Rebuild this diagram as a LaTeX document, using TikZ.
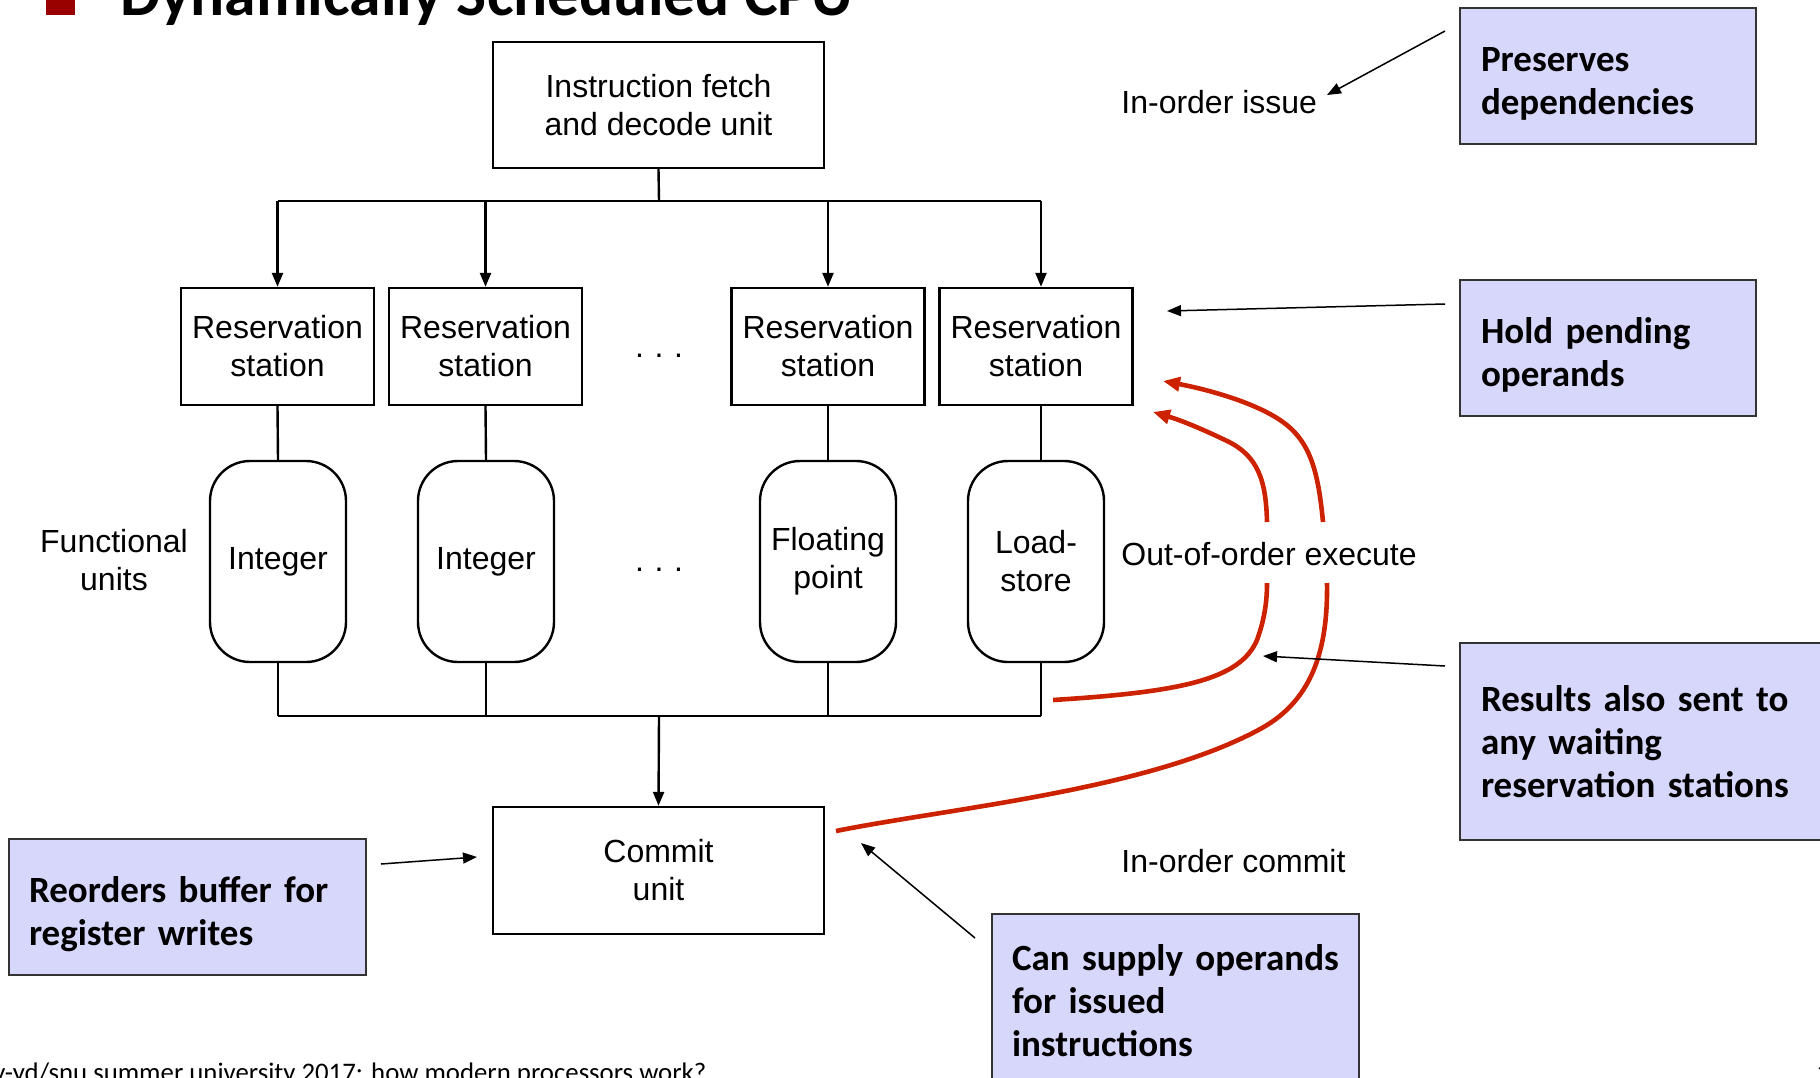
\documentclass[tikz,border=0pt]{standalone}
\usepackage{fontspec}
\setmainfont{Liberation Sans}
\newfontfamily\callfont{Carlito}
\usetikzlibrary{arrows.meta}
\definecolor{callfill}{RGB}{215,215,252}
\definecolor{redc}{RGB}{204,34,0}
\definecolor{bulletred}{RGB}{153,0,0}
\newcommand{\toppad}{\rule{0pt}{20pt}}
\begin{document}
\begin{tikzpicture}[x=0.5pt,y=-0.5pt,
  diag/.style={font=\fontsize{16}{19}\selectfont, align=center},
  box/.style={diag, draw, line width=1.2pt, inner sep=0pt},
  fubox/.style={box, rounded corners=20pt, minimum width=68pt, minimum height=100.5pt},
  rsbox/.style={box, minimum width=96.5pt, minimum height=58.5pt},
  wire/.style={line width=1.2pt},
  warrow/.style={wire, -{Triangle[length=7pt,width=5.5pt]}},
  calloutbox/.style={draw=black!80, line width=0.8pt, fill=callfill, font=\callfont\bfseries\fontsize{18.5}{21.5}\selectfont, align=left, inner xsep=10.5pt, inner ysep=0pt},
  carrow/.style={line width=0.75pt, -{Triangle[length=7pt,width=5.5pt]}},
  redline/.style={redc, line width=2.3pt},
  redarrow/.style={redline, -{Triangle[length=8.5pt,width=7pt]}},
  txtlbl/.style={diag, inner sep=0pt},
]
\useasboundingbox (0,0) rectangle (1820,1077);
\clip (0,0) rectangle (1820,1077);

% title (cut off at the top)
\fill[bulletred] (46,-14) rectangle (75,15);
\node[font=\callfont\bfseries\fontsize{31.8}{36}\selectfont, anchor=base west, inner sep=0pt] (title) at (120,15) {Dynamically Scheduled CPU};

% main units
\node[box, minimum width=165.5pt, minimum height=63pt] (ifu) at (658.5,105) {Instruction fetch\\and decode unit};
\node[rsbox] (rs1) at (277.5,346.5) {Reservation\\station};
\node[rsbox] (rs2) at (485.5,346.5) {Reservation\\station};
\node[rsbox] (rs3) at (828,346.5) {Reservation\\station};
\node[rsbox] (rs4) at (1036,346.5) {Reservation\\station};
\node[fubox] (fu1) at (278,561.5) {Integer};
\node[fubox] (fu2) at (486,561.5) {Integer};
\node[fubox] (fu3) at (828,561.5) {Floating\\point};
\node[fubox] (fu4) at (1036,561.5) {Load-\\store};
\node[box, minimum width=165.5pt, minimum height=63.5pt] (commit) at (658.5,870.5) {Commit\\unit};

\node[txtlbl, anchor=base] (dots1) at (659,357) {.\,\,.\,\,.};
\node[txtlbl, anchor=base] (dots2) at (659,571) {.\,\,.\,\,.};
\node[txtlbl] (fulab) at (114,560) {Functional\\units};
\node[txtlbl, anchor=mid west] (issue) at (1121,108) {In-order issue};
\node[txtlbl, anchor=mid west] (ooo) at (1121,560) {Out-of-order execute};
\node[txtlbl, anchor=mid west] (inc) at (1121,867) {In-order commit};

% top bus
\coordinate (bt) at (659,201);
\draw[wire] (ifu.south) -- (bt);
\draw[wire] (rs1.north |- bt) -- ([xshift=2.5pt]rs4.north |- bt);
\foreach \r in {rs1,rs2,rs3} \draw[warrow] (\r.north |- bt) -- (\r.north);
\draw[warrow] ([xshift=2.5pt]rs4.north |- bt) -- ([xshift=2.5pt]rs4.north);
% RS to FU
\draw[wire] (rs1.south) -- (fu1.north);
\draw[wire] (rs2.south) -- (fu2.north);
\draw[wire] (rs3.south) -- (fu3.north);
\draw[wire] ([xshift=2.5pt]rs4.south) -- ([xshift=2.5pt]fu4.north);
% bottom bus
\coordinate (bb) at (659,716);
\foreach \f in {fu1,fu2,fu3} \draw[wire] (\f.south) -- (\f.south |- bb);
\draw[wire] ([xshift=2.5pt]fu4.south) -- ([xshift=2.5pt]fu4.south |- bb);
\draw[wire] (fu1.south |- bb) -- ([xshift=2.5pt]fu4.south |- bb);
\draw[warrow] (bb) -- (commit.north);

% red result paths
\coordinate (ri0) at (1053,700);
\coordinate (ri1) at (1267,583);
\coordinate (ri2) at (1267,522);
\coordinate (ri3) at (1153,412);
\coordinate (ro0) at (836,831);
\coordinate (ro1) at (1327,583);
\coordinate (ro2) at (1323,522);
\coordinate (ro3) at (1163,381);
\draw[redline] (ri0) .. controls (1180,692) and (1240,680) .. (1257,640) .. controls (1265,618) and (1267,600) .. (ri1);
\draw[redarrow] (ri2) .. controls (1266,480) and (1258,455) .. (1225,440) .. controls (1200,428) and (1180,420) .. (ri3);
\draw[redline] (ro0) .. controls (950,808) and (1150,790) .. (1262,728) .. controls (1312,700) and (1328,650) .. (ro1);
\draw[redarrow] (ro2) .. controls (1318,470) and (1310,440) .. (1280,420) .. controls (1250,400) and (1200,388) .. (ro3);

% callouts
\node[calloutbox, text width=127pt, minimum height=68pt] (pres) at (1608,76) {\toppad Preserves\\dependencies};
\node[calloutbox, text width=127pt, minimum height=68pt] (hold) at (1608,348) {\toppad Hold pending\\operands};
\node[calloutbox, text width=164pt, minimum height=98.5pt] (res) at (1645,741.5) {Results also sent to\\any waiting\\reservation stations};
\node[calloutbox, text width=158.5pt, inner xsep=10pt, minimum height=68pt] (reord) at (187.5,907) {\toppad Reorders buffer for\\register writes};
\node[calloutbox, text width=163.5pt, inner xsep=10pt, minimum height=87pt] (supply) at (1175.5,1001) {Can supply operands\\for issued\\instructions};

% callout arrows
\coordinate (a1s) at (1445,31);   \coordinate (a1e) at (1327,95);
\coordinate (a2s) at (1445,304);  \coordinate (a2e) at (1167,311);
\coordinate (a3s) at (1445,666);  \coordinate (a3e) at (1263,656);
\coordinate (a4s) at (381,864);   \coordinate (a4e) at (477,857);
\coordinate (a5s) at (975,938);   \coordinate (a5e) at (861,843);
\draw[carrow] (a1s) -- (a1e);
\draw[carrow] (a2s) -- (a2e);
\draw[carrow] (a3s) -- (a3e);
\draw[carrow] (a4s) -- (a4e);
\draw[carrow] (a5s) -- (a5e);

% footer
\node[font=\callfont\fontsize{13.4}{16}\selectfont, anchor=base west, inner sep=0pt] (foot) at (-7,1081) {y-yd/snu summer university 2017: how modern processors work?};
\node[font=\callfont\fontsize{13.4}{16}\selectfont, anchor=base west, inner sep=0pt] (pg) at (1816,1081) {1};
\end{tikzpicture}
\end{document}
